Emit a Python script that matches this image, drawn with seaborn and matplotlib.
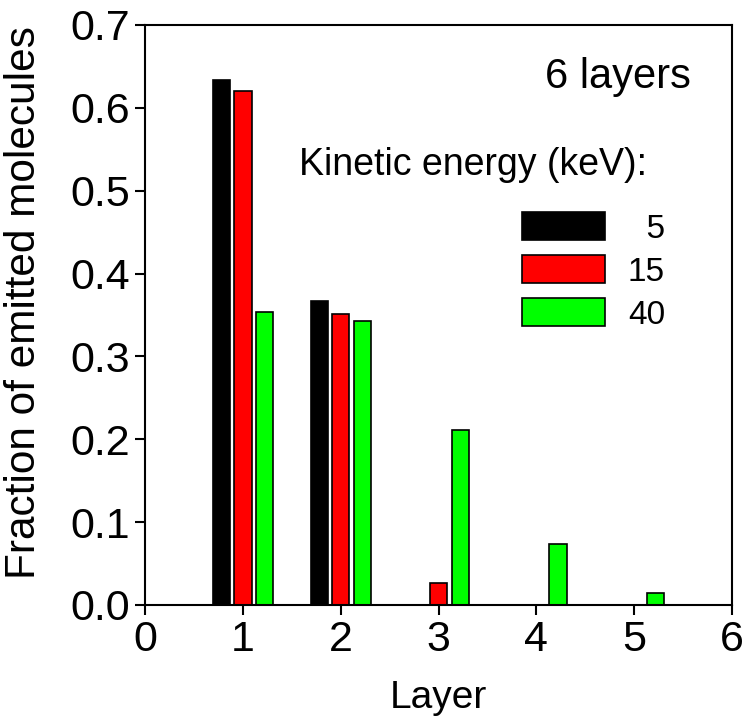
import numpy as np
import pandas as pd
import matplotlib
matplotlib.use("Agg")
import matplotlib.pyplot as plt
import seaborn as sns

# values
layers = [1, 2, 3, 4, 5]
energies = ["5", "15", "40"]
frac_5kev = [0.633, 0.367, 0.0, 0.0, 0.0]
frac_15kev = [0.620, 0.351, 0.026, 0.0, 0.0]
frac_40kev = [0.354, 0.343, 0.211, 0.073, 0.014]
colors = ["#000000", "#ff0000", "#00ff00"]

sns.set_style("ticks")
plt.rcParams["font.family"] = ["Liberation Sans", "DejaVu Sans"]
for key in ["text.color", "axes.labelcolor", "xtick.color", "ytick.color", "axes.edgecolor"]:
    plt.rcParams[key] = "black"

df = pd.DataFrame({
    "Layer": layers * 3,
    "Fraction": frac_5kev + frac_15kev + frac_40kev,
    "Energy": [e for e in energies for _ in layers],
})

fig = plt.figure(figsize=(7.44, 7.26), dpi=100)
ax = fig.add_axes([0.195, 0.1667, 0.789, 0.799])

sns.barplot(data=df, x="Layer", y="Fraction", hue="Energy", hue_order=energies,
            palette=colors, saturation=1, native_scale=True, width=0.66, gap=0.2,
            dodge=True, edgecolor="black", linewidth=1.2, errorbar=None, ax=ax,
            legend=False)

ax.set_xlim(0, 6)
ax.set_ylim(0, 0.7)
ax.set_xticks(range(0, 7))
ax.set_yticks(np.arange(0, 0.71, 0.1))
ax.set_yticklabels([f"{v:.1f}" for v in np.arange(0, 0.71, 0.1)])
ax.tick_params(labelsize=31, width=1.5, length=7, direction="out")
ax.set_xlabel("Layer", fontsize=28, labelpad=15)
ax.set_ylabel("Fraction of emitted molecules", fontsize=30.5)
ax.yaxis.set_label_coords(-0.172, 0.522)
for s in ax.spines.values():
    s.set_linewidth(1.5)
    s.set_visible(True)

ax.text(0.93, 0.91, "6 layers", transform=ax.transAxes, ha="right", va="center", fontsize=30)
ax.text(0.262, 0.758, "Kinetic energy (keV):", transform=ax.transAxes, ha="left", va="center", fontsize=27)

handles = [plt.Rectangle((0, 0), 1, 1, facecolor=c, edgecolor="black", linewidth=1.2) for c in colors]
ax.legend(handles, ["  5", "15", "40"], loc="upper left", bbox_to_anchor=(0.642, 0.677),
          frameon=False, fontsize=24, handlelength=2.48, handleheight=0.9,
          handletextpad=0.7, labelspacing=0.32, borderpad=0, borderaxespad=0)

fig.savefig("out.png", dpi=100)
